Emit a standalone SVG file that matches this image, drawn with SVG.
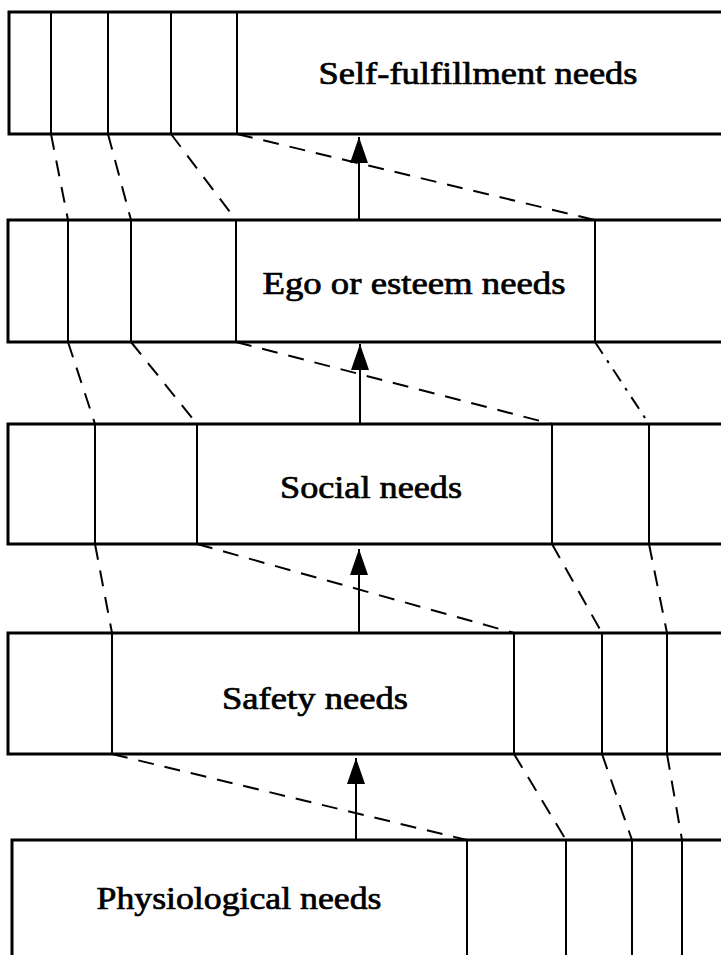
<svg xmlns="http://www.w3.org/2000/svg" width="721" height="955" viewBox="0 0 721 955">
<style>
.box{fill:#fff;stroke:#000;stroke-width:3}
.div{stroke:#000;stroke-width:2;fill:none}
.lbl{font-family:"Liberation Serif","DejaVu Serif",serif;font-size:31px;fill:#000;stroke:#000;stroke-width:0.7;text-anchor:middle}
.dash{stroke:#000;stroke-width:2;fill:none;stroke-dasharray:16 11}
.dashdot{stroke:#000;stroke-width:2;fill:none;stroke-dasharray:14 8 3 8}
.arr{stroke:#000;stroke-width:2;fill:none;marker-end:url(#ah)}
</style>
<defs>
<marker id="ah" markerUnits="userSpaceOnUse" markerWidth="26" markerHeight="20" refX="26" refY="10" orient="auto" viewBox="0 0 26 20">
<path d="M0,1 L26,10 L0,19 Z" fill="#000"/>
</marker>
</defs>
<rect width="721" height="955" fill="#fff"/>

<g id="self-fulfillment">
<rect class="box" x="9" y="12" width="720" height="122"/>
<path class="div" d="M51,12V134M108,12V134M171,12V134M237,12V134"/>
<text class="lbl" x="478" y="84" textLength="319" lengthAdjust="spacingAndGlyphs">Self-fulfillment needs</text>
</g>

<g id="ego">
<rect class="box" x="8" y="220" width="720" height="122"/>
<path class="div" d="M68,220V342M131,220V342M236,220V342M595,220V342"/>
<text class="lbl" x="414" y="294" textLength="303" lengthAdjust="spacingAndGlyphs">Ego or esteem needs</text>
</g>

<g id="social">
<rect class="box" x="8" y="424" width="720" height="120"/>
<path class="div" d="M95,424V544M197,424V544M552,424V544M649,424V544"/>
<text class="lbl" x="371" y="498" textLength="182" lengthAdjust="spacingAndGlyphs">Social needs</text>
</g>

<g id="safety">
<rect class="box" x="8" y="633" width="720" height="121"/>
<path class="div" d="M112,633V754M514,633V754M602,633V754M667,633V754"/>
<text class="lbl" x="315" y="709" textLength="186" lengthAdjust="spacingAndGlyphs">Safety needs</text>
</g>

<g id="physiological">
<rect class="box" x="12" y="840" width="720" height="130"/>
<path class="div" d="M467,840V960M566,840V960M632,840V960M682,840V960"/>
<text class="lbl" x="239" y="909" textLength="285" lengthAdjust="spacingAndGlyphs">Physiological needs</text>
</g>

<g id="connectors">
<path class="dash" d="M51,134L68,220"/>
<path class="dash" d="M108,134L131,220"/>
<path class="dash" d="M171,134L236,220"/>
<path class="dash" d="M237,134L595,220"/>
<path class="dash" d="M68,342L95,424"/>
<path class="dash" d="M131,342L197,424"/>
<path class="dash" d="M236,342L552,424"/>
<path class="dashdot" d="M595,342L649,424"/>
<path class="dash" d="M95,544L112,633"/>
<path class="dash" d="M197,544L514,633"/>
<path class="dash" d="M552,544L602,633"/>
<path class="dash" d="M649,544L667,633"/>
<path class="dash" d="M112,754L467,840"/>
<path class="dash" d="M514,754L566,840"/>
<path class="dash" d="M602,754L632,840"/>
<path class="dash" d="M667,754L682,840"/>
<path class="arr" d="M359,220V137"/>
<path class="arr" d="M360,424V344"/>
<path class="arr" d="M359,632V549"/>
<path class="arr" d="M356,840V758"/>
</g>
</svg>
